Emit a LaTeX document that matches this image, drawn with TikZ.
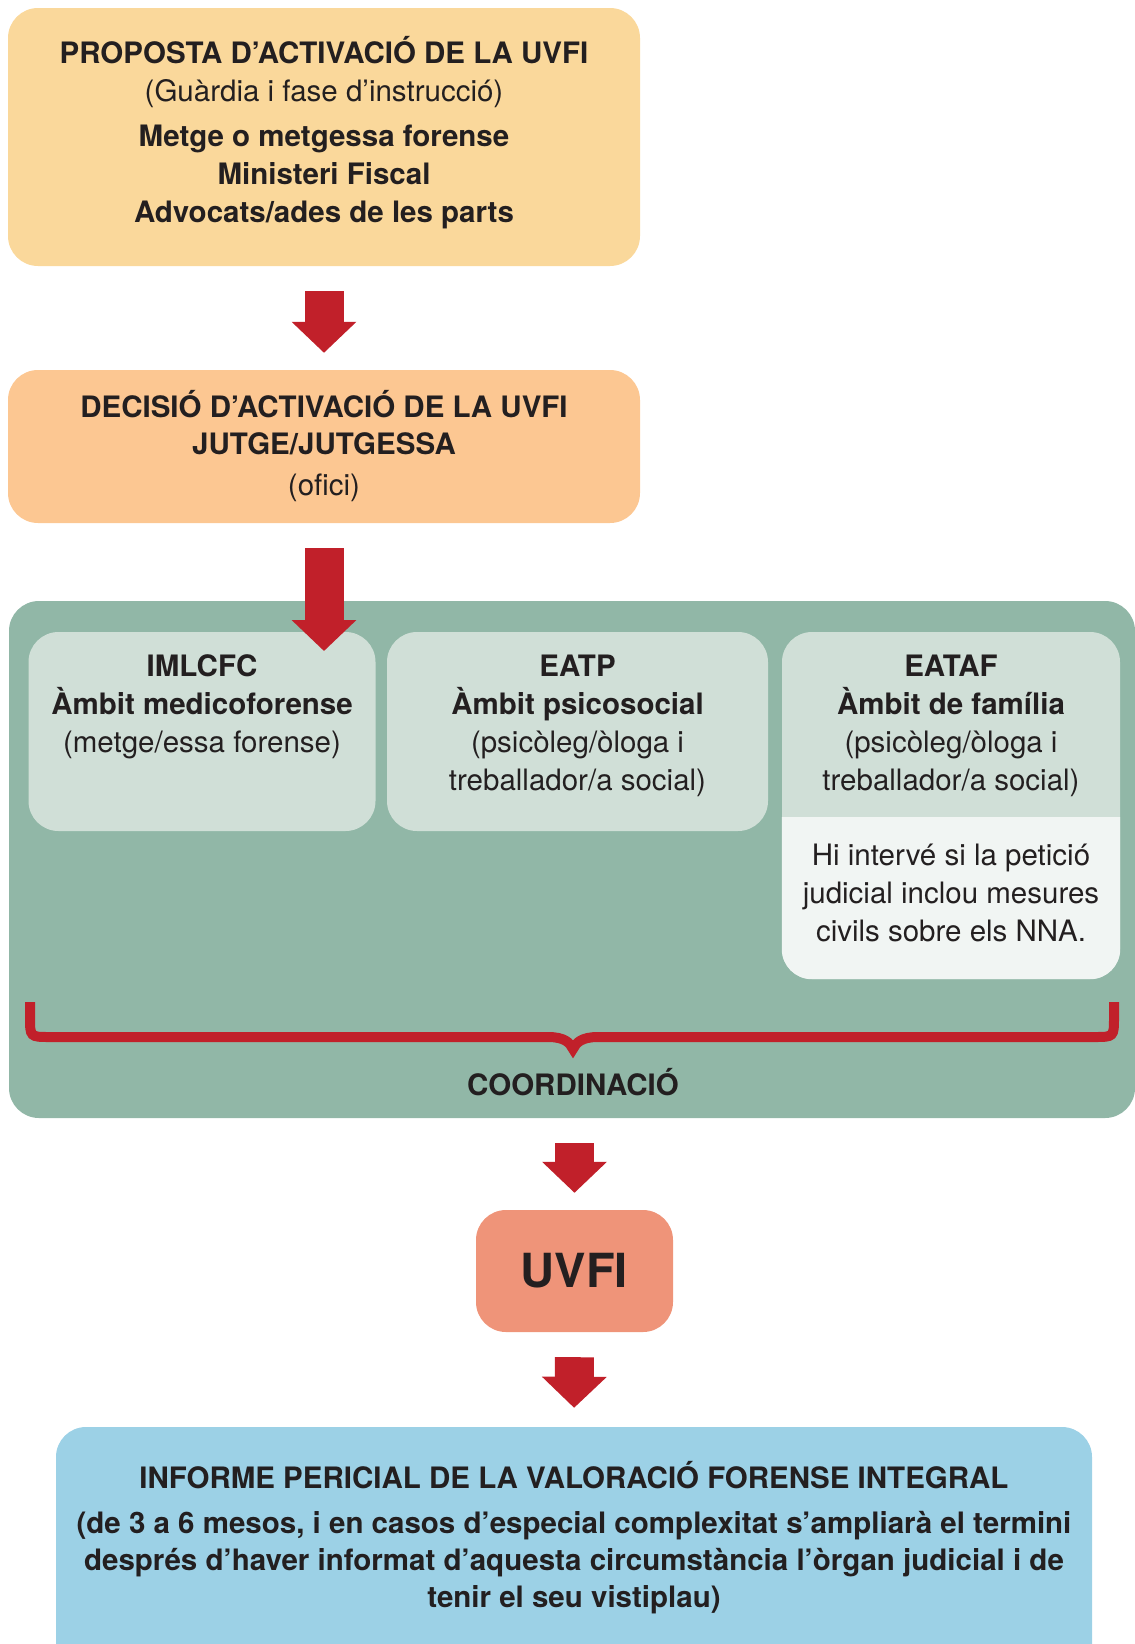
\documentclass[tikz,border=0pt]{standalone}
\usepackage{fontspec}
\setmainfont{TeX Gyre Heros}
\usetikzlibrary{arrows.meta}
\definecolor{propuesta}{HTML}{FAD89B}
\definecolor{decision}{HTML}{FCC792}
\definecolor{panel}{HTML}{91B7A7}
\definecolor{ambito}{HTML}{D0DFD7}
\definecolor{nota}{HTML}{F1F5F3}
\definecolor{rojo}{HTML}{C1202A}
\definecolor{uvfi}{HTML}{EF9479}
\definecolor{informe}{HTML}{9CD1E6}
\definecolor{texto}{HTML}{231F20}
\tikzset{
  caja/.style={rounded corners=30pt, inner sep=0pt, align=center, text=texto},
  txt/.style={inner sep=0pt, align=center, text=texto, font=\fontsize{29.5}{38}\selectfont},
  flecha/.style={draw=rojo, line width=39pt, -{Triangle[width=63pt,length=31pt]}, shorten <=25pt},
  llave/.style={draw=rojo, line width=10pt}
}
\begin{document}
\begin{tikzpicture}[x=1pt,y=-1pt]
  \useasboundingbox (0,0) rectangle (1135,1644);
  \clip (0,0) rectangle (1135,1644);
  % Cajas
  \node[caja, fill=propuesta, minimum width=632pt, minimum height=258pt] (prop) at (324,137) {};
  \node[txt] (proptxt) at (324,132.5) {\textbf{PROPOSTA D’ACTIVACIÓ DE LA UVFI}\\(Guàrdia i fase d’instrucció)\\[7pt]
    \textbf{Metge o metgessa forense}\\\textbf{Ministeri Fiscal}\\\textbf{Advocats/ades de les parts}};
  \node[caja, fill=decision, minimum width=632pt, minimum height=153pt,
    font=\fontsize{29.5}{37}\selectfont] (dec) at (324,446.5)
    {\textbf{DECISIÓ D’ACTIVACIÓ DE LA UVFI}\\\textbf{JUTGE/JUTGESSA}\\[4pt](ofici)};
  \node[caja, fill=panel, minimum width=1126pt, minimum height=517pt] (panel) at (572,859.5) {};
  \node[caja, fill=ambito, minimum width=347pt, minimum height=199pt] (imlcfc) at (202,731.5) {};
  \node[caja, fill=ambito, minimum width=381pt, minimum height=199pt] (eatp) at (577.5,731.5) {};
  \node[caja, fill=ambito, minimum width=338pt, minimum height=347pt] (eataf) at (951,805.5) {};
  \begin{scope}
    \clip (700,817) rectangle (1135,1000);
    \fill[nota, rounded corners=30pt] (eataf.north west) rectangle (eataf.south east);
  \end{scope}
  \node[txt] (imlcfctxt) at (202,707) {\textbf{IMLCFC}\\\textbf{Àmbit medicoforense}\\(metge/essa forense)};
  \node[txt] (eatptxt) at (577.5,726) {\textbf{EATP}\\\textbf{Àmbit psicosocial}\\(psicòleg/òloga i\\treballador/a social)};
  \node[txt] (eataftxt) at (951,726) {\textbf{EATAF}\\\textbf{Àmbit de família}\\(psicòleg/òloga i\\treballador/a social)};
  \node[txt] (notatxt) at (951,893) {Hi intervé si la petició\\judicial inclou mesures\\civils sobre els NNA.};
  % Llave de coordinacion
  \draw[llave] (30,1002) -- (30,1017) .. controls (30,1037) .. (50,1037) -- (548,1037)
    .. controls (565,1037) and (570,1043) .. (573,1049) .. controls (576,1043) and (581,1037) .. (598,1037)
    -- (1094,1037) .. controls (1114,1037) .. (1114,1017) -- (1114,1002);
  \node[txt] (coord) at (573,1082) {\textbf{COORDINACIÓ}};
  \node[caja, fill=uvfi, minimum width=197pt, minimum height=122pt,
    font=\fontsize{47}{50}\selectfont\bfseries] (uvfibox) at (574.5,1271) {UVFI};
  \node[caja, fill=informe, minimum width=1036pt, minimum height=300pt] (inf) at (574,1577) {};
  \node[txt, font=\fontsize{29.5}{37}\selectfont\bfseries] (inftxt) at (574,1538)
    {INFORME PERICIAL DE LA VALORACIÓ FORENSE INTEGRAL\\[8pt]
    (de 3 a 6 mesos, i en casos d’especial complexitat s’ampliarà el termini\\
    després d’haver informat d’aquesta circumstància l’òrgan judicial i de\\
    tenir el seu vistiplau)};
  % Flechas
  \coordinate (tip2) at (324,651);
  \draw[flecha, shorten >=17pt] (prop.south) -- (dec.north);
  \draw[flecha] (dec.south) -- (tip2);
  \draw[flecha, shorten >=17pt] (574.5,1118) -- (uvfibox.north);
  \draw[flecha, shorten >=19pt] (uvfibox.south) -- (inf.north);
\end{tikzpicture}
\end{document}
